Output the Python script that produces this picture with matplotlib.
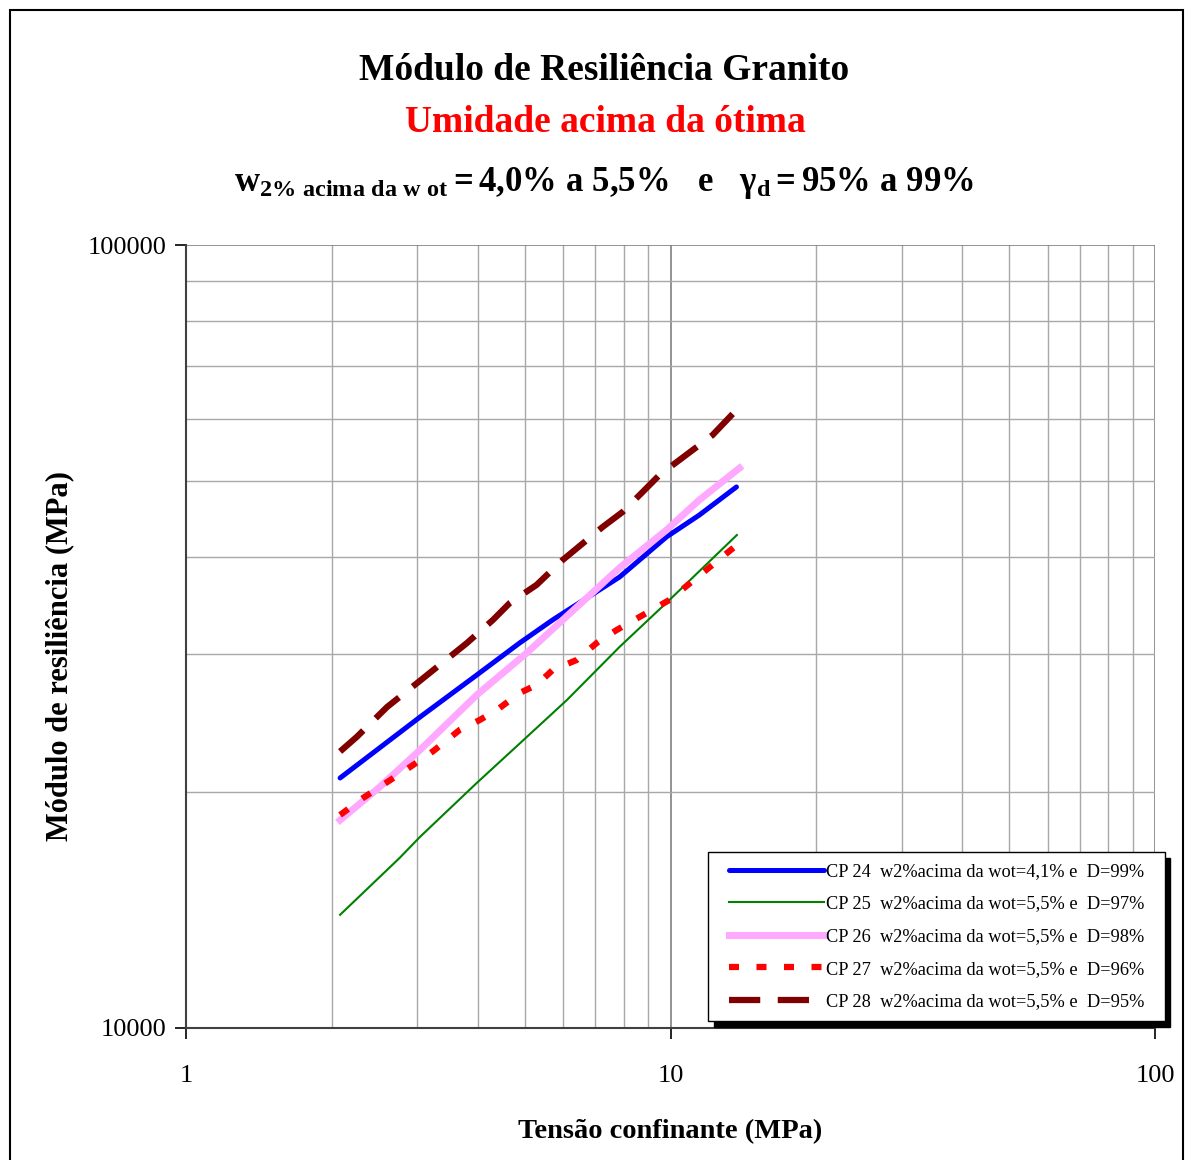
import matplotlib
matplotlib.use('Agg')
import matplotlib.pyplot as plt
from matplotlib.patches import Rectangle
from matplotlib.lines import Line2D
from matplotlib.legend_handler import HandlerLine2D
from matplotlib.ticker import LogLocator, FixedLocator, NullFormatter

plt.rcParams['font.family'] = ['Liberation Serif', 'DejaVu Serif']
plt.rcParams['mathtext.fontset'] = 'custom'
plt.rcParams['mathtext.rm'] = 'Liberation Serif'
plt.rcParams['mathtext.bf'] = 'Liberation Serif:bold'
plt.rcParams['mathtext.it'] = 'Liberation Serif:italic:bold'

# dados (tensao confinante x modulo de resiliencia)
x_cp24 = [2.08, 3.04, 3.98, 4.88, 5.71, 7.85, 8.63, 9.81, 11.47, 13.68]
y_cp24 = [20860, 24950, 28230, 31020, 33200, 37670, 39600, 42380, 45200, 49090]

x_cp25 = [2.08, 2.76, 3.04, 3.98, 5.05, 6.11, 7.85, 9.95, 13.71]
y_cp25 = [13950, 16490, 17540, 20550, 23530, 26230, 30670, 35210, 42620]

x_cp26 = [2.08, 2.51, 3.04, 3.98, 5.05, 7.85, 9.81, 11.47, 13.88]
y_cp26 = [18430, 20310, 22650, 26620, 30130, 38700, 43250, 47250, 51900]

x_cp27 = [2.08, 2.32, 2.90, 3.23, 3.67, 4.04, 4.38, 4.88, 5.29, 5.71, 6.40, 7.04, 7.74, 9.95, 13.71]
y_cp27 = [18710, 19670, 21540, 22550, 24020, 24740, 25470, 26780, 27420, 28650, 29510, 31020, 32230, 35210, 41390]

x_cp28 = [2.08, 2.25, 2.60, 3.00, 3.80, 4.30, 4.66, 5.29, 5.99, 7.24, 7.96, 8.76, 9.49, 10.43, 11.47, 12.21, 13.68]
y_cp28 = [22550, 23530, 25700, 27580, 31020, 33200, 34900, 36800, 39600, 43630, 45600, 48370, 50850, 53130, 55530, 57180, 61560]

labels = ['CP 24  w2%acima da wot=4,1% e  D=99%',
          'CP 25  w2%acima da wot=5,5% e  D=97%',
          'CP 26  w2%acima da wot=5,5% e  D=98%',
          'CP 27  w2%acima da wot=5,5% e  D=96%',
          'CP 28  w2%acima da wot=5,5% e  D=95%']

fig = plt.figure(figsize=(11.91, 11.6), dpi=100)
fig.patches.append(Rectangle((10/1191, -0.01), 1173/1191, 1 - 10/1160 + 0.01,
                             transform=fig.transFigure, fill=False,
                             edgecolor='black', lw=1.5))

ax = fig.add_axes([186/1191, 1 - 1028/1160, 969/1191, 783/1160])
ax.set_xscale('log')
ax.set_yscale('log')
ax.set_xlim(1, 100)
ax.set_ylim(10000, 100000)

ax.plot(x_cp24, y_cp24, color='#0000FF', lw=3.6, solid_capstyle='round', label=labels[0])
ax.plot(x_cp25, y_cp25, color='#008000', lw=1.5, label=labels[1])
ax.plot(x_cp26, y_cp26, color='#FFA8FF', lw=5.0, label=labels[2])
ax.plot(x_cp27, y_cp27, color='#FF0000', lw=4.5, dashes=(1.6, 2.8), label=labels[3])
ax.plot(x_cp28, y_cp28, color='#800000', lw=4.5, dashes=(5.0, 2.8), label=labels[4])

ax.xaxis.set_major_locator(FixedLocator([1, 10, 100]))
ax.xaxis.set_minor_locator(LogLocator(base=10, subs=range(2, 10), numticks=20))
ax.yaxis.set_major_locator(FixedLocator([10000, 100000]))
ax.yaxis.set_minor_locator(LogLocator(base=10, subs=range(2, 10), numticks=20))
ax.xaxis.set_minor_formatter(NullFormatter())
ax.yaxis.set_minor_formatter(NullFormatter())
ax.set_xticklabels(['1', '10', '100'])
ax.set_yticklabels(['10000', '100000'])
ax.tick_params(which='major', direction='out', length=8, width=1.2, labelsize=19, pad=6)
ax.tick_params(axis='x', which='major', pad=19)
ax.tick_params(which='minor', length=0)

ax.grid(True, which='minor', color='#A8A8A8', lw=1.0)
ax.grid(True, which='major', color='#808080', lw=1.2)
ax.set_axisbelow(True)
for s in ['top', 'right']:
    ax.spines[s].set_visible(False)
for s in ['left', 'bottom']:
    ax.spines[s].set_color('#404040')
    ax.spines[s].set_linewidth(1.5)

ax.set_xlabel('Tensão confinante (MPa)', fontsize=20.5, fontweight='bold', labelpad=23)
ax.set_ylabel('Módulo de resiliência (MPa)', fontsize=22, fontweight='bold')
ax.yaxis.set_label_coords(-0.1156, 0.475)

fig.text(604/1191, 1 - 70/1160, 'Módulo de Resiliência Granito', fontsize=27,
         fontweight='bold', ha='center', va='center')
fig.text(605/1191, 1 - 123/1160, 'Umidade acima da ótima', fontsize=27,
         fontweight='bold', color='#FF0000', ha='center', va='center')
fig.text(604/1191, 1 - 183/1160,
         r'$\mathbf{w_{2\%\ acima\ da\ w\ ot}{=}4{,}0\%\ a\ 5{,}5\%\quad e\quad γ_{d}{=}95\%\ a\ 99\%}$',
         fontsize=25, ha='center', va='center')

leg = ax.legend(loc='upper left', bbox_to_anchor=(708/1191, 1 - 852/1160),
                bbox_transform=fig.transFigure, fontsize=13.2, frameon=True,
                fancybox=False, edgecolor='black', framealpha=1,
                shadow={'color': 'black', 'alpha': 1, 'ox': 4, 'oy': -4},
                handlelength=5.7, handletextpad=0.15, labelspacing=0.85,
                borderpad=0.6, borderaxespad=0,
                handler_map={Line2D: HandlerLine2D(xpad=0.55)})
for t in leg.get_texts():
    t.set_text(t.get_text() + '  ')
leg.get_frame().set_linewidth(1.0)

fig.savefig('out.png', dpi=100)
